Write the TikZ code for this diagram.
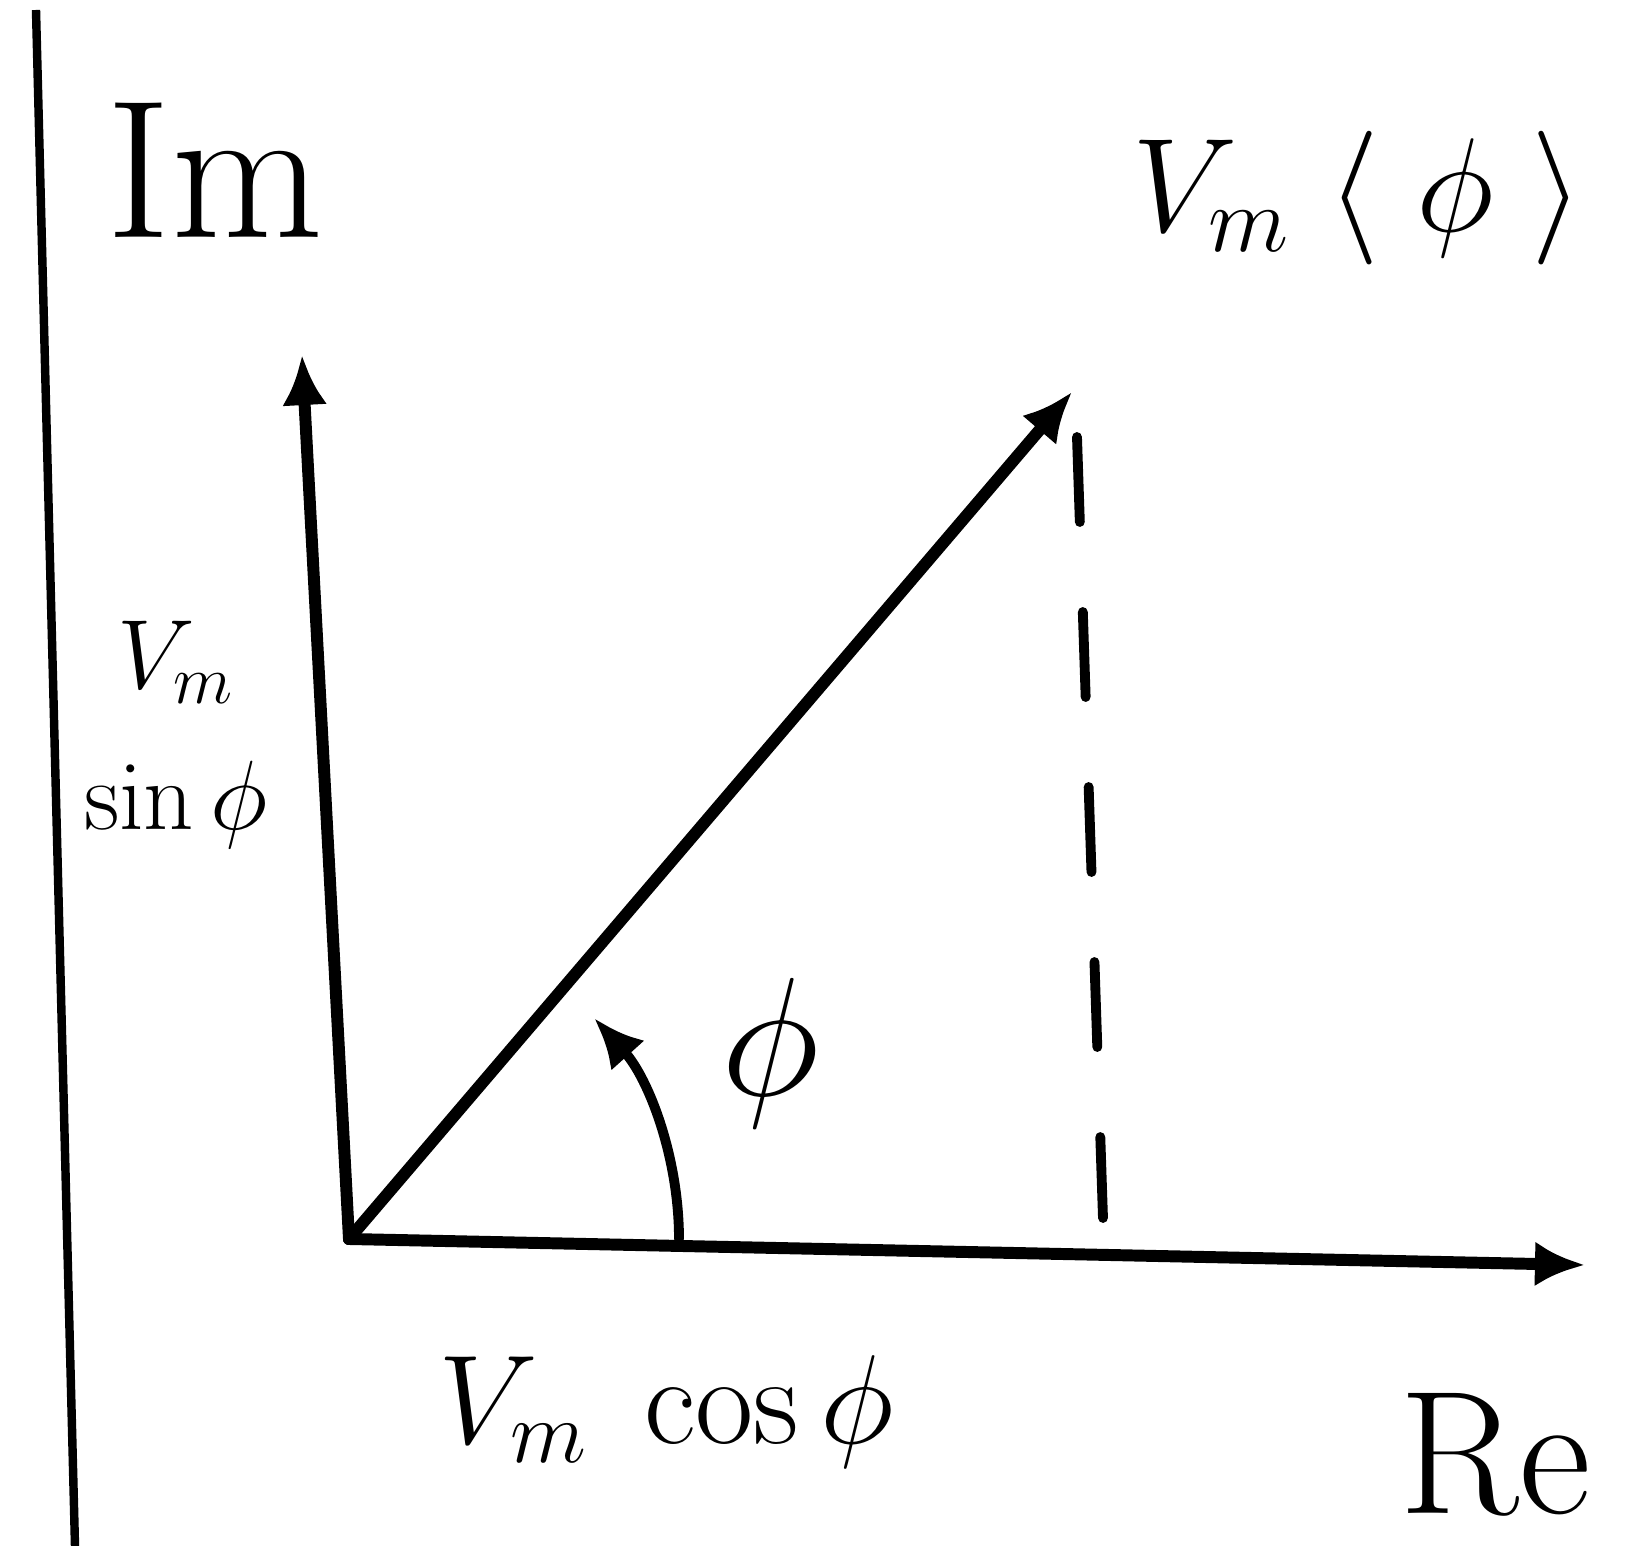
\RequirePackage{fix-cm}
\documentclass[tikz,border=0pt]{standalone}
\usepackage{amsmath,amssymb}
\usetikzlibrary{arrows.meta,positioning}

\begin{document}
\begin{tikzpicture}[x=0.01cm,y=-0.01cm,>={Latex[length=5mm,width=4.5mm]},
  every node/.style={align=center,inner sep=0pt},
  axisline/.style={line width=3.4pt,line cap=round},
  biglabel/.style={font=\fontsize{38}{44}\selectfont},
  midlabel/.style={font=\fontsize{28}{40}\selectfont}]
  \useasboundingbox (0,0) rectangle (1632,1546);
  % frame line at the left
  \draw[line width=2.4pt] (36,10) -- (75,1546);
  % axes and phasor
  \coordinate (O) at (349,1239);
  \coordinate (imtip) at (302,355);
  \coordinate (retip) at (1585,1265);
  \coordinate (tip) at (1072,392);
  \coordinate (dtop) at (1077,437);
  \coordinate (dbot) at (1103,1218);
  \draw[axisline,->] (O) -- (imtip);
  \draw[axisline,->] (O) -- (retip);
  \draw[axisline,->] (O) -- (tip);
  \draw[axisline,line width=2.8pt,dash pattern=on 0.85cm off 0.9cm] (dtop) -- (dbot);
  % angle
  \draw[axisline,line width=2.8pt,->] (O) ++(0:330) arc[start angle=0,end angle=-42,radius=330];
  % labels
  \node[font=\fontsize{56}{60}\selectfont] (imlabel) at (215,170) {Im};
  \node[font=\fontsize{50}{56}\selectfont] (relabel) at (1495,1455) {Re};
  \node[biglabel] (phasorlabel) at (1358,198) {$V_m\;\langle\;\phi\;\rangle$};
  \node[midlabel] (sinlabel) at (176,735) {$V_m$\\$\sin\phi$};
  \node[font=\fontsize{48}{54}\selectfont] (anglelabel) at (770,1053) {$\phi$};
  \node[font=\fontsize{36}{40}\selectfont] (coslabel) at (666,1412) {$V_m\;\cos\phi$};
\end{tikzpicture}
\end{document}
